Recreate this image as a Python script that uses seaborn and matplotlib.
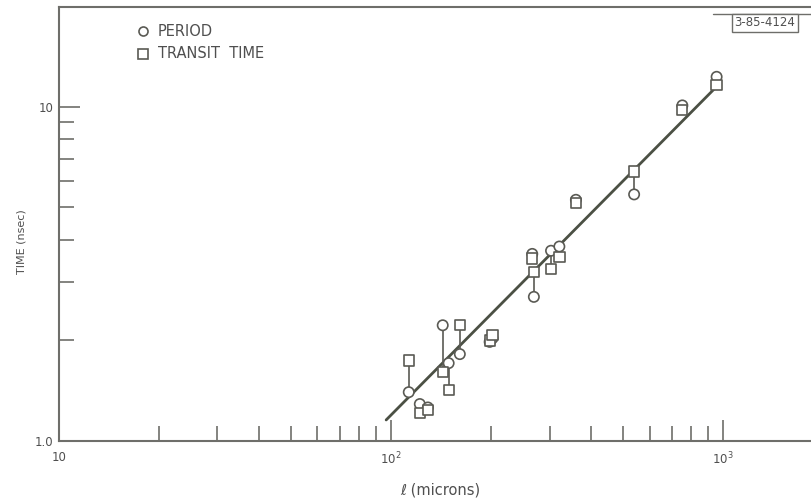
import pandas as pd
import matplotlib
matplotlib.use("Agg")
import matplotlib.pyplot as plt
import seaborn as sns
import numpy as np

## ---------------------------------- datos ----------------------------------
length = [113, 122, 129, 143, 149, 161, 198, 202, 266, 269, 303, 321, 360, 539, 753, 955]
period = [1.40, 1.29, 1.26, 2.22, 1.71, 1.82, 1.98, 2.03, 3.63, 2.70, 3.71, 3.82, 5.27, 5.47, 10.1, 12.3]
transit = [1.74, 1.21, 1.24, 1.61, 1.42, 2.22, 2.00, 2.08, 3.52, 3.21, 3.27, 3.55, 5.15, 6.40, 9.8, 11.6]

fit_x = [96.6, 940]
fit_y = [1.156, 11.32]

x_ticks = [10, 100, 1000]
x_labels = ["10", "10$^2$", "10$^3$"]
y_ticks = [1, 10]
y_labels = ["1.0", "10"]

## tabla larga para seaborn
df = pd.DataFrame({
    "length": length * 2,
    "time": period + transit,
    "kind": ["PERIOD"] * len(period) + ["TRANSIT TIME"] * len(transit),
})
df_fit = pd.DataFrame({"length": fit_x, "time": fit_y})

ink = "#5a5a54"
txt = "#4f4f4f"

sns.set_style("ticks")
plt.rcParams["font.family"] = ["DejaVu Sans"]

fig = plt.figure(figsize=(8.12, 5.0), dpi=100)
ax = fig.add_axes([59 / 812, 59 / 500, 1 - 59 / 812, (441 - 7) / 500])

## linea de ajuste
sns.lineplot(data=df_fit, x="length", y="time", ax=ax, color="#4b5044", lw=2.0, zorder=2)

## uniones verticales entre periodo y tiempo de transito
ax.vlines(length, period, transit, colors=ink, lw=1.2, zorder=2.5)

## puntos
sns.scatterplot(data=df, x="length", y="time", style="kind",
                markers={"PERIOD": "o", "TRANSIT TIME": "s"},
                s=55, facecolor="white", edgecolor=ink, linewidth=1.2,
                ax=ax, zorder=3, legend=False)

ax.set_xscale("log")
ax.set_yscale("log")
ax.set_xlim(10, 1850)
ax.set_ylim(1.0, 19.9)

## ejes
for side in ["left", "top", "bottom"]:
    ax.spines[side].set_color("#6e6e6a")
    ax.spines[side].set_linewidth(1.5)
ax.spines["right"].set_visible(False)

ax.set_xticks(x_ticks)
ax.set_xticklabels(x_labels)
ax.set_yticks(y_ticks)
ax.set_yticklabels(y_labels)
ax.xaxis.set_minor_locator(matplotlib.ticker.LogLocator(base=10, subs=np.arange(2, 10)))
ax.yaxis.set_minor_locator(matplotlib.ticker.LogLocator(base=10, subs=np.arange(2, 10)))
ax.xaxis.set_minor_formatter(matplotlib.ticker.NullFormatter())
ax.yaxis.set_minor_formatter(matplotlib.ticker.NullFormatter())
ax.tick_params(which="major", direction="in", length=15, width=1.2, color="#6e6e6a",
               labelsize=8.5, labelcolor=txt)
ax.tick_params(which="minor", direction="in", length=10.5, width=1.2, color="#6e6e6a")
ax.tick_params(axis="x", which="both", top=False, pad=7)
ax.tick_params(axis="y", which="both", right=False, pad=4)

ax.set_xlabel("ℓ (microns)", fontsize=10.5, color=txt)
ax.xaxis.set_label_coords((440 - 59) / (812 - 59), -0.095)
ax.set_ylabel("TIME (nsec)", fontsize=8, color=txt)
ax.yaxis.set_label_coords(-0.043, 0.46)

## leyenda a mano, como en el original
ax.plot([0.1115], [0.9447], transform=ax.transAxes, marker="o", ms=6.5, mfc="white",
        mec=ink, mew=1.2, clip_on=False)
ax.plot([0.1115], [0.8917], transform=ax.transAxes, marker="s", ms=6.5, mfc="white",
        mec=ink, mew=1.2, clip_on=False)
fig.text(158 / 812, 1 - 31 / 500, "PERIOD", fontsize=10.5, color=txt, va="center")
fig.text(158 / 812, 1 - 54 / 500, "TRANSIT  TIME", fontsize=10.5, color=txt, va="center")

## etiqueta de figura
fig.add_artist(matplotlib.lines.Line2D([713 / 812, 1], [1 - 14 / 500] * 2, color="#6e6e6a", lw=1.0))
fig.text(765 / 812, 1 - 23 / 500, "3-85-4124", fontsize=8.5, color=txt, ha="center", va="center",
         bbox=dict(boxstyle="square,pad=0.2", fc="white", ec="#6e6e6a", lw=1.0))

fig.savefig("out.png", dpi=100)
